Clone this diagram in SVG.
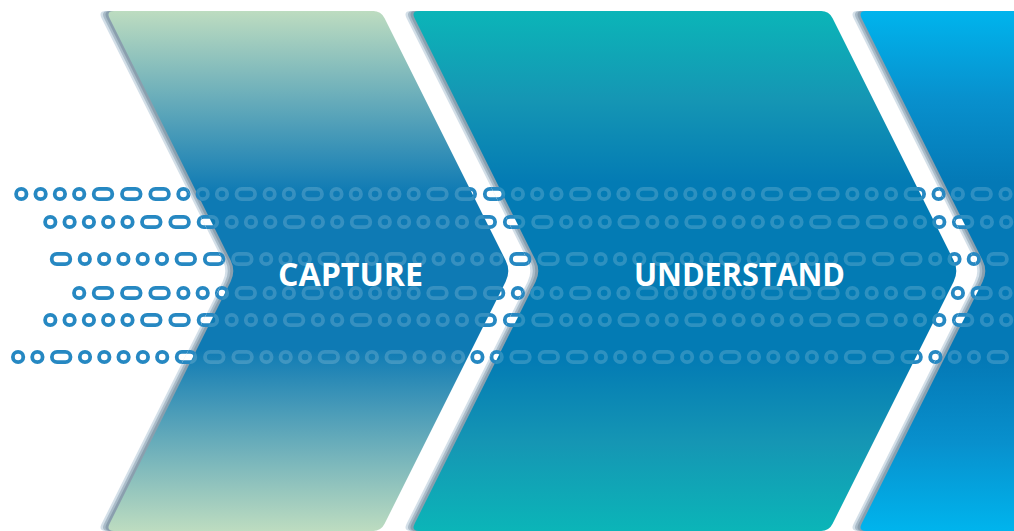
<svg xmlns="http://www.w3.org/2000/svg" xmlns:xlink="http://www.w3.org/1999/xlink" width="1014" height="531" viewBox="0 0 1014 531">
<style>
.lbl{font-family:"Open Sans","Noto Sans","Liberation Sans",sans-serif;font-weight:700;font-size:33px;fill:#fff}
.s1{fill:#d3dfe8}.s2{fill:#a9bbc8}.s3{fill:#8a9fae}
</style>
<defs>
<linearGradient id="g1" gradientUnits="userSpaceOnUse" x1="0" y1="11" x2="0" y2="531">
<stop offset="0" stop-color="#bddcc0"/><stop offset="0.35" stop-color="#0e7ab4"/><stop offset="0.65" stop-color="#0e7ab4"/><stop offset="1" stop-color="#bddcc0"/>
</linearGradient>
<linearGradient id="g2" gradientUnits="userSpaceOnUse" x1="0" y1="11" x2="0" y2="531">
<stop offset="0" stop-color="#0bb5b8"/><stop offset="0.17" stop-color="#1596b4"/><stop offset="0.33" stop-color="#037bb4"/><stop offset="0.67" stop-color="#037bb4"/><stop offset="0.83" stop-color="#1596b4"/><stop offset="1" stop-color="#0bb5b8"/>
</linearGradient>
<linearGradient id="g3" gradientUnits="userSpaceOnUse" x1="0" y1="11" x2="0" y2="531">
<stop offset="0" stop-color="#00b4ed"/><stop offset="0.17" stop-color="#0890cd"/><stop offset="0.33" stop-color="#0479b6"/><stop offset="0.67" stop-color="#0479b6"/><stop offset="0.83" stop-color="#0890cd"/><stop offset="1" stop-color="#00b4ed"/>
</linearGradient>
<path id="c1" d="M114,11 L373,11 Q381,11 384.6,18.2 L505.6,260.3 Q511,271 505.6,281.7 L384.6,523.8 Q381,531 373,531 L114,531 Q106,531 109.6,523.8 L230.6,281.7 Q236,271 230.6,260.3 L109.6,18.2 Q106,11 114,11 Z"/>
<path id="c2" d="M419,11 L821,11 Q829,11 832.6,18.2 L953.6,260.3 Q959,271 953.6,281.7 L832.6,523.8 Q829,531 821,531 L419,531 Q411,531 414.6,523.8 L535.6,281.7 Q541,271 535.6,260.3 L414.6,18.2 Q411,11 419,11 Z"/>
<path id="c3" d="M866,11 L1030,11 L1030,531 L866,531 Q858,531 861.6,523.8 L982.6,281.7 Q988,271 982.6,260.3 L861.6,18.2 Q858,11 866,11 Z"/>
<clipPath id="cs1"><use href="#c1" transform="translate(-8,0)"/></clipPath>
<clipPath id="cs2"><use href="#c2" transform="translate(-8,0)"/></clipPath>
<clipPath id="cs3"><use href="#c3" transform="translate(-8,0)"/></clipPath>
<clipPath id="cf1"><use href="#c1"/></clipPath>
<clipPath id="cf2"><use href="#c2"/></clipPath>
<clipPath id="cf3"><use href="#c3"/></clipPath>
<g id="t">
<circle cx="77.2" cy="0" r="5.2"/>
<rect x="91.7" y="-5.2" width="18.6" height="10.4" rx="5.2"/>
<rect x="120" y="-5.2" width="18.6" height="10.4" rx="5.2"/>
<rect x="148.3" y="-5.2" width="18.6" height="10.4" rx="5.2"/>
<circle cx="181.4" cy="0" r="5.2"/>
<circle cx="200.7" cy="0" r="5.2"/>
<circle cx="220" cy="0" r="5.2"/>
<rect x="234.5" y="-5.2" width="18.6" height="10.4" rx="5.2"/>
<circle cx="267.6" cy="0" r="5.2"/>
<circle cx="286.9" cy="0" r="5.2"/>
<rect x="301.4" y="-5.2" width="18.6" height="10.4" rx="5.2"/>
</g>
<g id="p">
<circle cx="0" cy="0" r="5.2"/>
<circle cx="19.3" cy="0" r="5.2"/>
<circle cx="38.6" cy="0" r="5.2"/>
<circle cx="57.9" cy="0" r="5.2"/>
<use href="#t"/>
</g>
<g id="rows" stroke-width="3.8">
<circle cx="21.3" cy="194" r="5.2"/><circle cx="40.6" cy="194" r="5.2"/><circle cx="59.9" cy="194" r="5.2"/>
<use href="#t" x="2" y="194"/><use href="#p" x="336.5" y="194"/><use href="#p" x="671" y="194"/><use href="#p" x="1005.5" y="194"/>
<use href="#p" x="50.3" y="222"/><use href="#p" x="384.8" y="222"/><use href="#p" x="719.3" y="222"/>
<rect x="51.7" y="253.8" width="18.6" height="10.4" rx="5.2"/>
<use href="#p" x="84.8" y="259"/><use href="#p" x="419.3" y="259"/><use href="#p" x="753.8" y="259"/>
<use href="#t" x="2" y="293"/><use href="#p" x="336.5" y="293"/><use href="#p" x="671" y="293"/><use href="#p" x="1005.5" y="293"/>
<use href="#p" x="50.3" y="320"/><use href="#p" x="384.8" y="320"/><use href="#p" x="719.3" y="320"/>
<circle cx="18.1" cy="357" r="5.2"/><circle cx="37.4" cy="357" r="5.2"/>
<rect x="51.9" y="351.8" width="18.6" height="10.4" rx="5.2"/>
<use href="#p" x="85" y="357"/><use href="#p" x="419.5" y="357"/><use href="#p" x="754" y="357"/>
</g>
</defs>
<rect width="1014" height="531" fill="#fff"/>
<g id="data-stream">
<use href="#rows" fill="#fff" stroke="#2688c2"/>
</g>
<g id="connectors"/>
<g id="node-capture">
<use href="#c1" class="s1" transform="translate(-8,0)"/>
<use href="#c1" class="s2" transform="translate(-5.5,0)"/>
<use href="#c1" class="s3" transform="translate(-3,0)"/>
<use href="#rows" fill="#fff" stroke="#2688c2" clip-path="url(#cs1)"/>
<use href="#c1" fill="url(#g1)"/>
<use href="#rows" fill="none" stroke="#fff" stroke-opacity="0.17" clip-path="url(#cf1)"/>
<text class="lbl" x="278" y="286" textLength="145" lengthAdjust="spacingAndGlyphs">CAPTURE</text>
</g>
<g id="node-understand">
<use href="#c2" class="s1" transform="translate(-8,0)"/>
<use href="#c2" class="s2" transform="translate(-5.5,0)"/>
<use href="#c2" class="s3" transform="translate(-3,0)"/>
<use href="#rows" fill="#fff" stroke="#2688c2" clip-path="url(#cs2)"/>
<use href="#c2" fill="url(#g2)"/>
<use href="#rows" fill="none" stroke="#fff" stroke-opacity="0.17" clip-path="url(#cf2)"/>
<text class="lbl" x="634" y="286" textLength="211" lengthAdjust="spacingAndGlyphs">UNDERSTAND</text>
</g>
<g id="node-next">
<use href="#c3" class="s1" transform="translate(-8,0)"/>
<use href="#c3" class="s2" transform="translate(-5.5,0)"/>
<use href="#c3" class="s3" transform="translate(-3,0)"/>
<use href="#rows" fill="#fff" stroke="#2688c2" clip-path="url(#cs3)"/>
<use href="#c3" fill="url(#g3)"/>
<use href="#rows" fill="none" stroke="#fff" stroke-opacity="0.17" clip-path="url(#cf3)"/>
</g>
</svg>
